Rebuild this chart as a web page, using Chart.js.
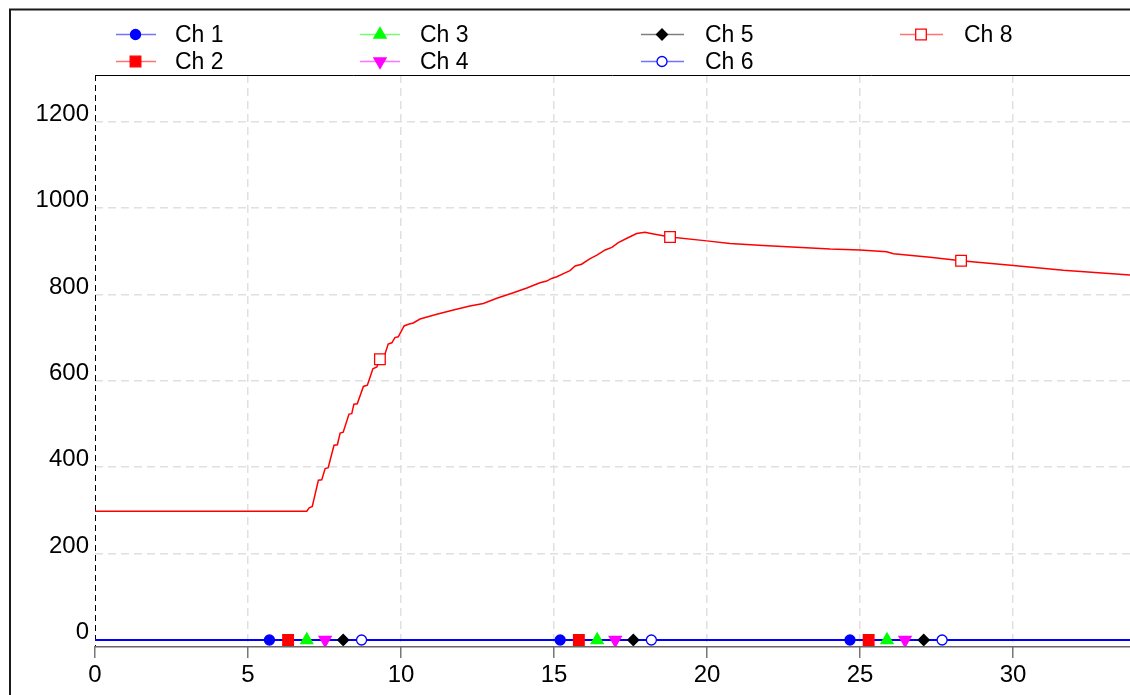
<!DOCTYPE html>
<html><head><meta charset="utf-8">
<script src="https://cdn.jsdelivr.net/npm/chart.js@4.4.1/dist/chart.umd.min.js"></script>
<style>html,body{margin:0;padding:0;background:#fff;overflow:hidden}#wrap{width:1130px;height:695px;position:relative}canvas{display:block}</style>
</head><body><div id="wrap"><canvas id="c" width="1130" height="695"></canvas></div>
<script>
// ---------- data ----------
const xTicks = [0, 5, 10, 15, 20, 25, 30];
const yTicks = [0, 200, 400, 600, 800, 1000, 1200];
const flatX = [0, 33.82];
const ch1Y = [0, 0];
const ch2Y = [0, 0];
const ch3Y = [0, 0];
const ch4Y = [0, 0];
const ch5Y = [0, 0];
const ch6Y = [0, 0];
const ch1MarkX = [5.70, 15.20, 24.67];
const ch2MarkX = [6.31, 15.81, 25.28];
const ch3MarkX = [6.92, 16.41, 25.88];
const ch4MarkX = [7.52, 17.00, 26.47];
const ch5MarkX = [8.11, 17.59, 27.08];
const ch6MarkX = [8.71, 18.18, 27.68];
const flatMarkY = [0, 0, 0];
const ch8X = [0, 6.92, 7.00, 7.10, 7.30, 7.41, 7.52, 7.62, 7.81, 7.92,
  8.01, 8.11, 8.30, 8.39, 8.46, 8.57, 8.77, 8.90, 9.08, 9.21,
  9.31, 9.48, 9.58, 9.70, 9.80, 9.91, 10.10, 10.24, 10.40, 10.62,
  11.17, 11.71, 12.25, 12.69, 13.13, 13.67, 14.11, 14.54, 14.76, 14.92,
  15.09, 15.36, 15.52, 15.69, 15.90, 16.18, 16.40, 16.67, 16.89, 17.10,
  17.38, 17.70, 17.97, 18.25, 18.79, 19.99, 20.75, 21.84, 22.93, 24.02,
  25.00, 25.87, 26.09, 27.29, 28.30, 30.01, 31.64, 33.82];
const ch8Y = [298, 298, 306, 309, 370, 371, 397, 399, 451, 452,
  479, 481, 523, 524, 546, 547, 587, 590, 628, 632,
  650, 663, 685, 688, 700, 702, 727, 731, 734, 743,
  754, 764, 773, 779, 791, 804, 815, 827, 831, 837,
  841, 850, 855, 866, 870, 883, 891, 903, 909, 920,
  930, 941, 944, 940, 933, 924, 918, 913, 909, 905,
  903, 899, 894, 886, 878, 867, 856, 845];
const ch8MarkX = [9.31, 18.79, 28.30];
const ch8MarkY = [650, 933, 878];
const seriesNames = ['Ch 1', 'Ch 2', 'Ch 3', 'Ch 4', 'Ch 5', 'Ch 6', 'Ch 8'];

// ---------- styles ----------
const FONT = "'Liberation Sans', Arial, Helvetica, sans-serif";
const styles = {
  'Ch 1': {color: '#0000ff', legendLine: 'rgba(0,0,255,0.55)', ps: 'circle', r: 5, fill: '#0000ff', rot: 0},
  'Ch 2': {color: '#ff0000', legendLine: 'rgba(255,0,0,0.55)', ps: 'rect', r: 7.5, fill: '#ff0000', rot: 0},
  'Ch 3': {color: '#00ff00', legendLine: 'rgba(0,255,0,0.55)', ps: 'triangle', r: 7, fill: '#00ff00', rot: 0},
  'Ch 4': {color: '#ff00ff', legendLine: 'rgba(255,0,255,0.55)', ps: 'triangle', r: 7, fill: '#ff00ff', rot: 180},
  'Ch 5': {color: '#000000', legendLine: 'rgba(0,0,0,0.5)', ps: 'rectRot', r: 5.5, fill: '#000000', rot: 0},
  'Ch 6': {color: '#0000ff', legendLine: 'rgba(0,0,255,0.55)', ps: 'circle', r: 5, fill: '#ffffff', rot: 0},
  'Ch 8': {color: '#ff0000', legendLine: 'rgba(255,0,0,0.55)', ps: 'rect', r: 7.5, fill: '#ffffff', rot: 0}
};
const legendSlots = {
  'Ch 1': {x1: 116, x2: 156, mx: 135.5, tx: 175, y: 34.5},
  'Ch 2': {x1: 116, x2: 156, mx: 135.5, tx: 175, y: 61.5},
  'Ch 3': {x1: 360, x2: 400, mx: 380, tx: 420, y: 34.5},
  'Ch 4': {x1: 360, x2: 400, mx: 380, tx: 420, y: 61.5},
  'Ch 5': {x1: 641, x2: 684, mx: 662, tx: 705, y: 34.5},
  'Ch 6': {x1: 641, x2: 684, mx: 662, tx: 705, y: 61.5},
  'Ch 8': {x1: 900, x2: 943, mx: 921, tx: 964, y: 34.5}
};

const pts = (xs, ys) => xs.map((x, i) => ({x: x, y: ys[i]}));
const flatY = {'Ch 1': ch1Y, 'Ch 2': ch2Y, 'Ch 3': ch3Y, 'Ch 4': ch4Y, 'Ch 5': ch5Y, 'Ch 6': ch6Y};
const markX = {'Ch 1': ch1MarkX, 'Ch 2': ch2MarkX, 'Ch 3': ch3MarkX, 'Ch 4': ch4MarkX, 'Ch 5': ch5MarkX, 'Ch 6': ch6MarkX, 'Ch 8': ch8MarkX};
const markY = {'Ch 1': flatMarkY, 'Ch 2': flatMarkY, 'Ch 3': flatMarkY, 'Ch 4': flatMarkY, 'Ch 5': flatMarkY, 'Ch 6': flatMarkY, 'Ch 8': ch8MarkY};

const datasets = [];
seriesNames.forEach(n => {
  const s = styles[n];
  const isFlat = n !== 'Ch 8';
  const lineData = isFlat ? pts(flatX, flatY[n]) : pts(ch8X, ch8Y);
  datasets.push({
    label: n, data: lineData, borderColor: s.color, borderWidth: isFlat ? 2 : 1.5,
    pointRadius: 0, fill: false, tension: 0,
    order: (n === 'Ch 1' || n === 'Ch 6') ? 2 : (n === 'Ch 8' ? 1 : 3)
  });
  datasets.push({
    label: n + ' markers', data: pts(markX[n], markY[n]), showLine: false,
    pointStyle: s.ps, pointRadius: s.r, pointRotation: s.rot,
    pointBackgroundColor: s.fill, pointBorderColor: s.color, pointBorderWidth: 1.3,
    order: 0
  });
});

function drawMarker(ctx, style, x, y, r, rot, fill, stroke) {
  ctx.save();
  ctx.beginPath();
  const rad = rot * Math.PI / 180;
  if (style === 'circle') {
    ctx.arc(x, y, r, 0, Math.PI * 2);
  } else if (style === 'rect') {
    const s = Math.SQRT1_2 * r;
    ctx.rect(x - s, y - s, 2 * s, 2 * s);
  } else if (style === 'triangle') {
    let a = rad;
    ctx.moveTo(x + Math.sin(a) * r, y - Math.cos(a) * r);
    a += 2 * Math.PI / 3;
    ctx.lineTo(x + Math.sin(a) * r, y - Math.cos(a) * r);
    a += 2 * Math.PI / 3;
    ctx.lineTo(x + Math.sin(a) * r, y - Math.cos(a) * r);
    ctx.closePath();
  } else if (style === 'rectRot') {
    ctx.moveTo(x - r, y); ctx.lineTo(x, y - r); ctx.lineTo(x + r, y); ctx.lineTo(x, y + r); ctx.closePath();
  }
  ctx.fillStyle = fill; ctx.fill();
  ctx.lineWidth = 1.3; ctx.strokeStyle = stroke; ctx.stroke();
  ctx.restore();
}

const framePlugin = {
  id: 'frame',
  beforeDraw(chart) {
    const ctx = chart.ctx;
    ctx.save();
    ctx.fillStyle = '#fff'; ctx.fillRect(0, 0, chart.width, chart.height);
    ctx.strokeStyle = '#1a1a1a'; ctx.lineWidth = 2;
    ctx.beginPath(); ctx.moveTo(10, 695); ctx.lineTo(10, 9.5); ctx.lineTo(1130, 9.5); ctx.stroke();
    ctx.restore();
  },
  beforeDatasetsDraw(chart) {
    const ctx = chart.ctx, a = chart.chartArea;
    ctx.save();
    ctx.strokeStyle = '#000'; ctx.lineWidth = 1;
    ctx.beginPath(); ctx.moveTo(a.left, a.top + 0.5); ctx.lineTo(a.right, a.top + 0.5); ctx.stroke();
    ctx.strokeStyle = '#666'; ctx.lineWidth = 1.5;
    ctx.beginPath(); ctx.moveTo(a.left, a.bottom + 0.75); ctx.lineTo(a.right, a.bottom + 0.75); ctx.stroke();
    ctx.strokeStyle = '#000'; ctx.lineWidth = 1; ctx.setLineDash([6, 4]);
    ctx.beginPath(); ctx.moveTo(a.left + 0.5, a.top); ctx.lineTo(a.left + 0.5, a.bottom); ctx.stroke();
    ctx.restore();
  },
  afterDraw(chart) {
    const ctx = chart.ctx;
    ctx.save();
    seriesNames.forEach(n => {
      const s = styles[n], L = legendSlots[n];
      ctx.strokeStyle = s.legendLine; ctx.lineWidth = 1.5;
      ctx.beginPath(); ctx.moveTo(L.x1, L.y); ctx.lineTo(L.x2, L.y); ctx.stroke();
      drawMarker(ctx, s.ps, L.mx, L.y, s.r, s.rot, s.fill, s.color);
      ctx.fillStyle = '#000'; ctx.font = '23px ' + FONT;
      ctx.textBaseline = 'middle'; ctx.textAlign = 'left';
      ctx.fillText(n, L.tx, L.y + 1);
    });
    ctx.restore();
  }
};

new Chart(document.getElementById('c'), {
  type: 'line',
  data: {datasets: datasets},
  options: {
    responsive: false, animation: false, devicePixelRatio: 1,
    layout: {autoPadding: false, padding: {left: 0, right: 0, top: 75, bottom: 0}},
    plugins: {legend: {display: false}, tooltip: {enabled: false}},
    scales: {
      x: {
        type: 'linear', min: 0, max: 33.82,
        afterBuildTicks(s) { s.ticks = xTicks.map(v => ({value: v})); },
        afterFit(s) { s.height = 49; },
        grid: {
          color: c => (c.tick && c.tick.value === 0) ? 'rgba(0,0,0,0)' : '#e0e0e0',
          lineWidth: 1.5, drawTicks: true, tickLength: 12, tickColor: '#777', tickWidth: 1.5,
          tickBorderDash: []
        },
        border: {display: false, dash: [8, 5]},
        ticks: {color: '#000', font: {family: FONT, size: 24}, padding: 3, maxRotation: 0, autoSkip: false,
          callback: v => String(v)}
      },
      y: {
        type: 'linear', min: -13.89, max: 1308,
        afterBuildTicks(s) { s.ticks = yTicks.map(v => ({value: v})); },
        afterFit(s) { s.width = 95; },
        grid: {
          color: c => (c.tick && c.tick.value === 0) ? 'rgba(0,0,0,0)' : '#e0e0e0',
          lineWidth: 1.5, drawTicks: false
        },
        border: {display: false, dash: [8, 5]},
        ticks: {color: '#000', font: {family: FONT, size: 24}, padding: 6, labelOffset: -7.5,
          callback: v => String(v)}
      }
    }
  },
  plugins: [framePlugin]
});
</script></body></html>
